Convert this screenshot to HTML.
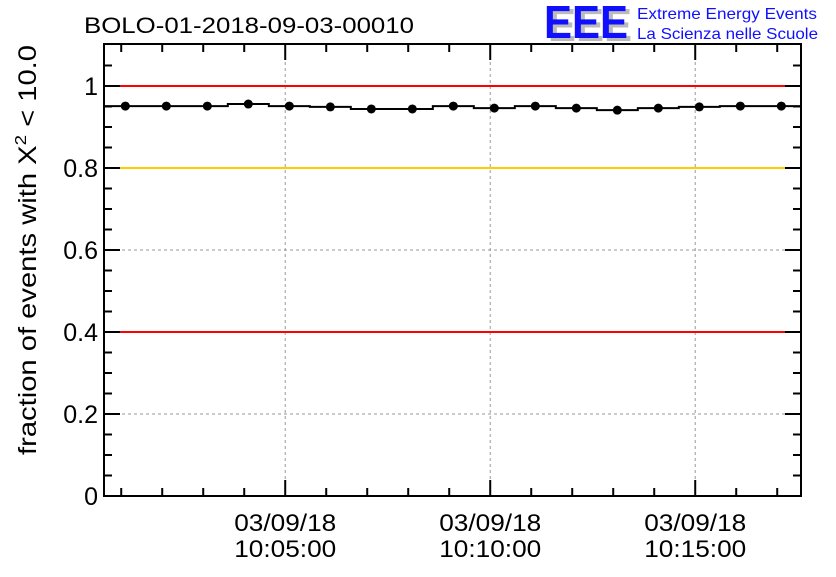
<!DOCTYPE html>
<html><head><meta charset="utf-8"><style>
body{margin:0;background:#fff;}
svg text{font-family:"Liberation Sans",sans-serif;}
</style></head><body>
<svg id="c" width="836" height="572" xmlns="http://www.w3.org/2000/svg">
<text x="84" y="33" font-size="22" textLength="330" lengthAdjust="spacingAndGlyphs">BOLO-01-2018-09-03-00010</text>
<g>
<text x="548" y="41" font-size="46" font-weight="bold" fill="#bbb" textLength="84" lengthAdjust="spacingAndGlyphs">EEE</text>
<text x="544" y="38" font-size="46" font-weight="bold" fill="#1010ff" textLength="84" lengthAdjust="spacingAndGlyphs">EEE</text>
<text x="637" y="19" font-size="16" fill="#1010ff" textLength="180" lengthAdjust="spacingAndGlyphs">Extreme Energy Events</text>
<text x="637" y="39" font-size="16" fill="#1010ff" textLength="181" lengthAdjust="spacingAndGlyphs">La Scienza nelle Scuole</text>
</g>
<g id="grid"></g><g id="axes"></g><g id="marks"></g>
<text transform="translate(36,250) rotate(-90)" text-anchor="middle" font-size="25" textLength="410" lengthAdjust="spacingAndGlyphs">fraction of events with X<tspan dy="-10" font-size="16">2</tspan><tspan dy="10"> &lt; 10.0</tspan></text>
</svg>
<script>
const minutes=[-3.9,-2.9,-1.9,-0.9,0.1,1.1,2.1,3.1,4.1,5.1,6.1,7.1,8.1,9.1,10.1,11.1,12.1];
const fractions=[0.951,0.951,0.951,0.956,0.951,0.949,0.944,0.944,0.951,0.946,0.951,0.946,0.941,0.946,0.949,0.951,0.951];
const yTicks=[0,0.2,0.4,0.6,0.8,1];
const yTickLabels=["0","0.2","0.4","0.6","0.8","1"];
const xTicks=[0,5,10];
const xTickLabels=[["03/09/18","10:05:00"],["03/09/18","10:10:00"],["03/09/18","10:15:00"]];
const refLines=[[1,"#ff0000"],[0.8,"#ffcc00"],[0.4,"#ff0000"]];
const L=104,R=801,T=44,B=496;
const xMin=-4.42,xMax=12.58,yMin=0,yMax=1.1024;
const X=v=>L+(v-xMin)/(xMax-xMin)*(R-L);
const Y=v=>B-(v-yMin)/(yMax-yMin)*(B-T);
const NS="http://www.w3.org/2000/svg";
function mk(p,t,a){const e=document.createElementNS(NS,t);for(const k in a)e.setAttribute(k,a[k]);document.getElementById(p).appendChild(e);return e;}
yTicks.forEach(v=>{if(v>0&&v<1){const e=mk("grid","line",{x1:L,x2:R,y1:Y(v),y2:Y(v),stroke:"#999","stroke-dasharray":"3,3"});

}});
xTicks.forEach(v=>{const e=mk("grid","line",{x1:X(v),x2:X(v),y1:T,y2:B,stroke:"#999","stroke-dasharray":"3,3"});

});
refLines.forEach(r=>{const e=mk("grid","line",{x1:L,x2:R,y1:Y(r[0]),y2:Y(r[0]),stroke:r[1],"stroke-width":2});

});
const fr=mk("axes","rect",{x:L,y:T,width:R-L,height:B-T,fill:"none",stroke:"#000","stroke-width":2});


for(let v=0;v<=1.1;v+=0.05){const big=Math.abs(v/0.2-Math.round(v/0.2))<1e-6;const w=big?16:8;
mk("axes","line",{x1:L,x2:L+w,y1:Y(v),y2:Y(v),stroke:"#000","stroke-width":2});
mk("axes","line",{x1:R,x2:R-w,y1:Y(v),y2:Y(v),stroke:"#000","stroke-width":2});}
yTicks.forEach((v,i)=>{const t=mk("axes","text",{x:L-6,y:Y(v)+9,"text-anchor":"end","font-size":25});t.textContent=yTickLabels[i];

});
for(let m=-4;m<=12;m++){const big=m%5===0;const w=big?16:8;
mk("axes","line",{x1:X(m),x2:X(m),y1:B,y2:B-w,stroke:"#000","stroke-width":2});
mk("axes","line",{x1:X(m),x2:X(m),y1:T,y2:T+w,stroke:"#000","stroke-width":2});}
xTicks.forEach((v,i)=>{xTickLabels[i].forEach((s,j)=>{const t=mk("axes","text",{x:X(v),y:531+j*26,"text-anchor":"middle","font-size":24,textLength:102,lengthAdjust:"spacingAndGlyphs"});t.textContent=s;

});});
let d="";minutes.forEach((m,i)=>{const y=Y(fractions[i]);d+=(i?"L":"M")+X(m-0.5)+","+y+"L"+X(m+0.5)+","+y;});
const ln=mk("marks","path",{d:d,fill:"none",stroke:"#000","stroke-width":2});


minutes.forEach((m,i)=>{const c=mk("marks","circle",{cx:X(m),cy:Y(fractions[i]),r:4.5,fill:"#000"});

});
</script>
</body></html>
